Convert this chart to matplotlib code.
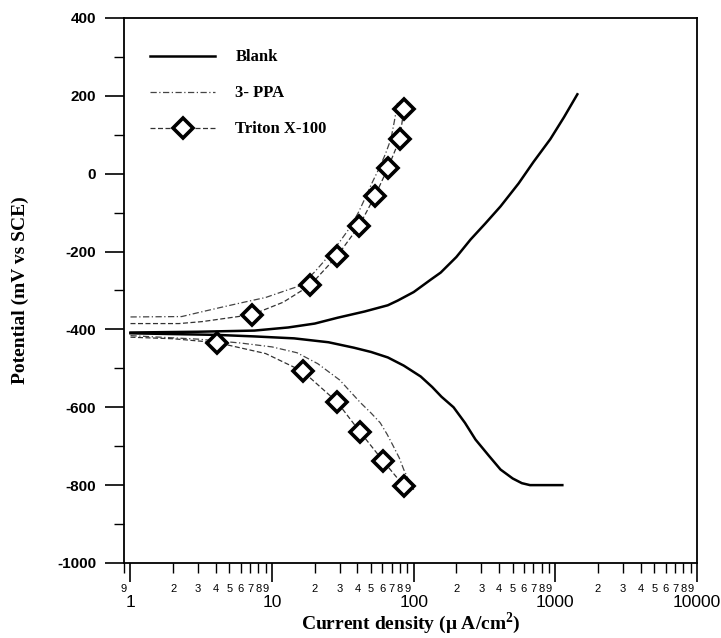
import numpy as np
import matplotlib.pyplot as plt
from matplotlib.ticker import FixedLocator, NullFormatter

plt.rcParams['mathtext.fontset'] = 'custom'
plt.rcParams['mathtext.rm'] = 'Liberation Serif:bold'
plt.rcParams['mathtext.bf'] = 'Liberation Serif:bold'
plt.rcParams['axes.unicode_minus'] = False

# Blank - anodic and cathodic branches (current uA/cm2, potential mV)
blank_an_i = [1.0, 3.0, 7.5, 13, 20, 29, 45, 65.6, 77, 100, 132, 155, 200, 252,
              320, 410, 550, 700, 922, 1150, 1430]
blank_an_e = [-408, -406, -403, -395, -385, -370, -354, -338, -326, -304, -272,
              -254, -214, -169, -128, -84, -25, 30, 89, 145, 204]
blank_ca_i = [1.0, 4.0, 7.5, 14.3, 25, 37.8, 50, 65.6, 85, 112, 135, 157, 191,
              230, 273, 340, 410, 500, 580, 662, 1120]
blank_ca_e = [-410, -414, -418, -423, -433, -447, -458, -472, -493, -521, -548,
              -573, -600, -640, -683, -725, -760, -783, -795, -800, -800]

# 3-PPA
ppa_an_i = [1.0, 2.3, 3.0, 4.4, 6.0, 9.0, 13, 16, 20, 25, 30, 36, 41, 46, 51,
            57, 63, 69, 73, 77]
ppa_an_e = [-368, -367, -357, -343, -332, -318, -298, -287, -252, -212, -175,
            -135, -97, -58, -22, 14, 50, 89, 135, 184]
ppa_ca_i = [1.0, 3.0, 6.0, 10, 15, 21, 30, 42, 50, 58, 65, 72, 79, 85, 92, 100]
ppa_ca_e = [-416, -425, -435, -445, -460, -488, -530, -588, -615, -640, -670,
            -701, -730, -760, -787, -812]

# Triton X-100 (marked points are the diamonds)
tri_an_i = [1.0, 2.2, 3.2, 7.23, 12, 18.5, 28.7, 41.0, 53.1, 65.6, 79.7, 85.1]
tri_an_e = [-385, -385, -380, -362, -330, -287, -212, -135, -58, 14, 89, 166]
tri_an_marks = [3, 5, 6, 7, 8, 9, 10, 11]
tri_ca_i = [1.0, 2.0, 4.1, 9.0, 16.5, 28.7, 41.7, 60.5, 85.1, 92]
tri_ca_e = [-420, -424, -434, -462, -508, -586, -663, -737, -802, -810]
tri_ca_marks = [2, 4, 5, 6, 7, 8]

fig = plt.figure(figsize=(7.21, 6.38), dpi=100)
ax = fig.add_axes([0.172, 0.1176, 0.7947, 0.8542])

ax.plot(blank_an_i, blank_an_e, color='black', lw=1.8, label='Blank')
ax.plot(blank_ca_i, blank_ca_e, color='black', lw=1.8)

ppa_style = dict(color='#444444', lw=0.9, ls=(0, (5, 2, 1, 2)))
ax.plot(ppa_an_i, ppa_an_e, label='3- PPA', **ppa_style)
ax.plot(ppa_ca_i, ppa_ca_e, **ppa_style)

tri_style = dict(color='#333333', lw=0.9, ls=(0, (4, 2)), marker='D', ms=10,
                 mfc='white', mec='black', mew=2.6)
ax.plot(tri_an_i, tri_an_e, markevery=tri_an_marks, label='Triton X-100', **tri_style)
ax.plot(tri_ca_i, tri_ca_e, markevery=tri_ca_marks, **tri_style)

ax.set_xscale('log')
ax.set_xlim(0.9, 10000)
ax.set_ylim(-1000, 400)

major_x = [1, 10, 100, 1000, 10000]
ax.xaxis.set_major_locator(FixedLocator(major_x))
ax.set_xticks(major_x, ['1', '10', '100', '1000', '10000'])
minor_x = [0.9]
minor_lab = ['9']
for d in [1, 10, 100, 1000]:
    for k in range(2, 10):
        minor_x.append(k * d)
        minor_lab.append(str(k))
ax.set_xticks(minor_x, minor_lab, minor=True)

ax.set_yticks(np.arange(-1000, 401, 200))
ax.set_yticks(np.arange(-900, 400, 200), minor=True)
ax.yaxis.set_minor_formatter(NullFormatter())

ax.tick_params(axis='x', which='major', direction='out', length=14, width=1.2,
               pad=9, labelsize=12.5, labelfontfamily='Liberation Sans')
ax.tick_params(axis='x', which='minor', direction='out', length=7, width=1.0,
               pad=8, labelsize=8, labelfontfamily='Liberation Sans')
ax.tick_params(axis='y', which='major', direction='out', length=14, width=1.2,
               pad=6, labelsize=11)
ax.tick_params(axis='y', which='minor', direction='out', length=7, width=1.0)
ax.tick_params(top=False, right=False)
for lab in ax.get_yticklabels():
    lab.set_fontfamily('Liberation Sans')
    lab.set_fontweight('bold')

for s in ax.spines.values():
    s.set_linewidth(1.3)

ax.set_xlabel('Current density (μ A/cm$^{2}$)', fontfamily='Liberation Serif',
              fontweight='bold', fontsize=14, va='center')
ax.xaxis.set_label_coords(0.5, -0.11)
ax.set_ylabel('Potential (mV vs SCE)', fontfamily='Liberation Serif',
              fontweight='bold', fontsize=14, labelpad=20)

leg = ax.legend(loc='upper left', bbox_to_anchor=(0.02, 0.97), frameon=False,
                handlelength=3.9, handletextpad=1.2, labelspacing=1.2,
                prop={'family': 'Liberation Serif', 'weight': 'bold', 'size': 12})

plt.savefig('out.png', dpi=100)
